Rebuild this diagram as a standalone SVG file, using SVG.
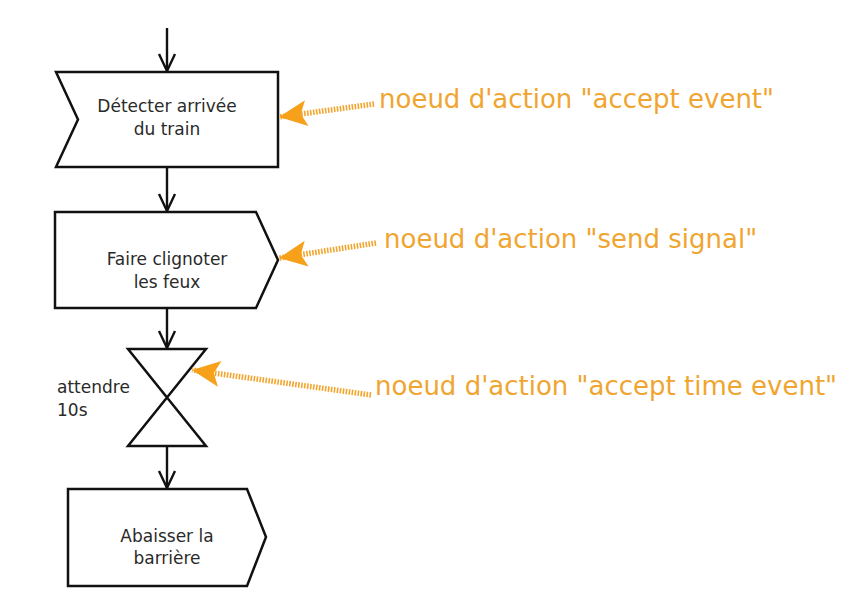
<svg xmlns="http://www.w3.org/2000/svg" width="856" height="602" viewBox="0 0 856 602">
  <style>
    .shape { fill: #ffffff; stroke: #111111; stroke-width: 2.5; stroke-linejoin: miter; }
    .lbl { font-family: "DejaVu Sans", sans-serif; font-size: 17px; fill: #2a2a2a; }
    .note { font-family: "DejaVu Sans", sans-serif; font-size: 26px; fill: #F0A530; }
    .flow { fill: none; stroke: #111111; stroke-width: 2.4; }
    .head { fill: none; stroke: #111111; stroke-width: 2.4; }
    .dot { fill: none; stroke: #F2A52C; stroke-width: 5.5; stroke-dasharray: 1.6 1.4; }
  </style>
  <defs>
    <marker id="orangeHead" markerUnits="userSpaceOnUse" markerWidth="34" markerHeight="32" viewBox="-30 -16 32 32" refX="0" refY="0" orient="auto">
      <path d="M0,0 L-28,-13 L-22,0 L-28,13 Z" fill="#F7A01A"/>
    </marker>
  </defs>
  <rect width="856" height="602" fill="#ffffff"/>

  <g id="connectors">
    <line class="flow" x1="167" y1="28" x2="167" y2="71"/>
    <polyline class="head" points="159,54 167,71 175,54"/>
    <line class="flow" x1="167" y1="167" x2="167" y2="211"/>
    <polyline class="head" points="159,194 167,211 175,194"/>
    <line class="flow" x1="167" y1="308" x2="167" y2="348"/>
    <polyline class="head" points="159,331 167,348 175,331"/>
    <line class="flow" x1="167" y1="446" x2="167" y2="488"/>
    <polyline class="head" points="159,471 167,488 175,471"/>
  </g>

  <g id="accept-event">
    <polygon class="shape" points="56,72 278,72 278,167 56,167 78,119.5"/>
    <text class="lbl" x="167" y="112" text-anchor="middle">Détecter arrivée</text>
    <text class="lbl" x="167" y="135" text-anchor="middle">du train</text>
  </g>

  <g id="send-signal">
    <polygon class="shape" points="55,212 256,212 278,260 256,308 55,308"/>
    <text class="lbl" x="167" y="265" text-anchor="middle">Faire clignoter</text>
    <text class="lbl" x="167" y="288" text-anchor="middle">les feux</text>
  </g>

  <g id="time-event">
    <polygon class="shape" points="128,349 206,349 128,446 206,446"/>
    <text class="lbl" x="57" y="393">attendre</text>
    <text class="lbl" x="57" y="416">10s</text>
  </g>

  <g id="lower-barrier">
    <polygon class="shape" points="68,489 247,489 266,537 247,586 68,586"/>
    <text class="lbl" x="167" y="542" text-anchor="middle">Abaisser la</text>
    <text class="lbl" x="167" y="564" text-anchor="middle">barrière</text>
  </g>

  <g id="annotations">
    <line class="dot" x1="374" y1="104" x2="279" y2="117" marker-end="url(#orangeHead)"/>
    <text class="note" x="379" y="108">noeud d'action "accept event"</text>
    <line class="dot" x1="376" y1="243" x2="279" y2="258" marker-end="url(#orangeHead)"/>
    <text class="note" x="384" y="248">noeud d'action "send signal"</text>
    <line class="dot" x1="371" y1="395" x2="192" y2="370" marker-end="url(#orangeHead)"/>
    <text class="note" x="375" y="395">noeud d'action "accept time event"</text>
  </g>
</svg>
